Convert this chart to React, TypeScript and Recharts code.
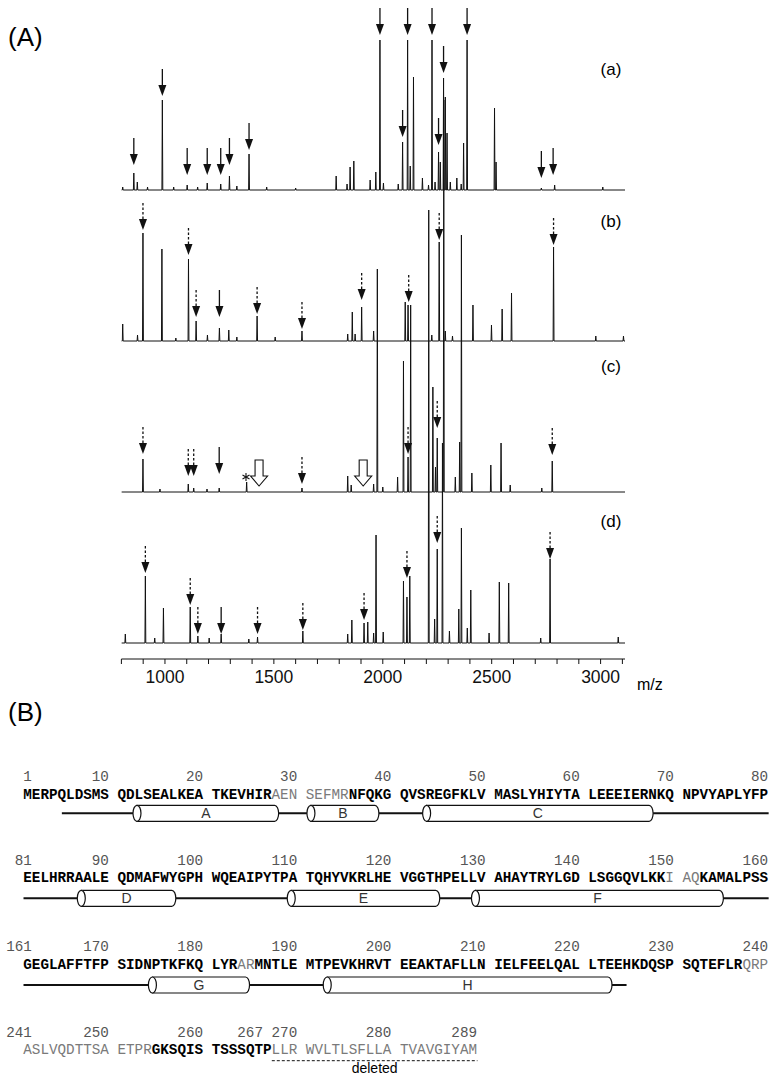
import React from 'react';
import { ComposedChart, Line, Scatter, XAxis, YAxis, ReferenceArea } from 'recharts';

// ---- panel A: MALDI spectra (m/z, peak height) ----
const mzTicks = [800, 900, 1000, 1100, 1200, 1300, 1400, 1500, 1600, 1700, 1800, 1900, 2000, 2100, 2200, 2300, 2400, 2500, 2600, 2700, 2800, 2900, 3000, 3100];

const peaksA = [[806, 3], [857, 17], [873, 8], [920, 3], [988, 90], [1040, 3], [1102, 5], [1150, 3], [1194, 7], [1256, 6], [1296, 14], [1330, 4], [1386, 36], [1467, 3], [1600, 2], [1786, 14], [1836, 6], [1850, 23], [1867, 29], [1942, 10], [1968, 18], [1987, 150], [2003, 7], [2071, 6], [2091, 48], [2114, 150], [2126, 24], [2141, 113], [2182, 12], [2210, 5], [2226, 150], [2240, 8], [2256, 38], [2264, 28], [2279, 112], [2287, 93], [2295, 57], [2310, 8], [2340, 12], [2360, 6], [2371, 47], [2387, 150], [2513, 82], [2520, 28], [2728, 2], [2789, 5], [3010, 3]];
const peaksB = [[806, 17], [874, 6], [899, 108], [986, 92], [1050, 3], [1108, 82], [1143, 20], [1195, 6], [1250, 13], [1293, 11], [1330, 4], [1423, 25], [1506, 4], [1629, 10], [1839, 7], [1860, 29], [1873, 7], [1903, 34], [1958, 10], [2103, 39], [2116, 36], [2225, 6], [2259, 99], [2287, 10], [2320, 5], [2414, 36], [2499, 16], [2548, 32], [2591, 48], [2784, 94], [2978, 5], [3105, 5]];
const peaksC = [[899, 33], [977, 3], [1107, 8], [1132, 4], [1193, 3], [1249, 4], [1375, 10], [1629, 4], [1839, 16], [1855, 7], [1958, 8], [1975, 223], [2000, 5], [2068, 15], [2095, 131], [2116, 35], [2128, 187], [2230, 105], [2242, 25], [2250, 54], [2280, 392], [2333, 15], [2353, 50], [2361, 257], [2409, 19], [2496, 27], [2543, 49], [2585, 7], [2730, 4], [2778, 31]];
const peaksD = [[818, 9], [910, 67], [953, 5], [993, 35], [1116, 36], [1151, 7], [1203, 5], [1258, 9], [1385, 4], [1425, 6], [1633, 12], [1839, 9], [1858, 23], [1914, 20], [1931, 21], [1958, 10], [1969, 108], [2002, 11], [2095, 62], [2111, 46], [2124, 67], [2211, 433], [2238, 24], [2250, 94], [2274, 200], [2306, 12], [2349, 34], [2361, 115], [2388, 15], [2404, 53], [2488, 10], [2535, 61], [2578, 60], [2725, 5], [2768, 84], [3081, 6]];

// arrows: [m/z, tip height above baseline]
const solidA = [[857, 25], [988, 94], [1102, 15], [1194, 15], [1256, 15], [1296, 25], [1386, 40], [1987, 155], [2091, 53], [2114, 155], [2226, 155], [2256, 45], [2279, 117], [2387, 155], [2728, 12], [2782, 15]];
const dashedB = [[899, 111], [1108, 86], [1143, 24], [1423, 27], [1629, 12], [1903, 41], [2119, 39], [2259, 101], [2784, 96]];
const solidB = [[1250, 24]];
const dashedC = [[899, 38], [1107, 16], [1132, 16], [1629, 8], [2116, 38], [2250, 64], [2778, 37]];
const solidC = [[1249, 18]];
const openC = [[1432, 6], [1910, 6]];
const starC = [[1372, 15]];
const dashedD = [[910, 70], [1116, 38], [1151, 9], [1425, 9], [1633, 13], [1914, 23], [2111, 65], [2250, 100], [2768, 84]];
const solidD = [[1258, 9]];

const traceNames = ['(a)', '(b)', '(c)', '(d)'];

// ---- panel B: sequence ----
const seqRows = [
  'MERPQLDSMS QDLSEALKEA TKEVHIRAEN SEFMRNFQKG QVSREGFKLV MASLYHIYTA LEEEIERNKQ NPVYAPLYFP',
  'EELHRRAALE QDMAFWYGPH WQEAIPYTPA TQHYVKRLHE VGGTHPELLV AHAYTRYLGD LSGGQVLKKI AQKAMALPSS',
  'GEGLAFFTFP SIDNPTKFKQ LYRARMNTLE MTPEVKHRVT EEAKTAFLLN IELFEELQAL LTEEHKDQSP SQTEFLRQRP',
  'ASLVQDTTSA ETPRGKSQIS TSSSQTPLLR WVLTLSFLLA TVAVGIYAM',
];
const rowNumbers = [
  [1, 10, 20, 30, 40, 50, 60, 70, 80],
  [81, 90, 100, 110, 120, 130, 140, 150, 160],
  [161, 170, 180, 190, 200, 210, 220, 230, 240],
  [241, 250, 260, 267, 270, 280, 289],
];
const lightRanges = [[28, 35], [150, 152], [184, 185], [238, 254], [268, 289]];
const helixNames = ['A', 'B', 'C', 'D', 'E', 'F', 'G', 'H'];
const helixStart = [12.8, 31.1, 43.6, 87.3, 109.8, 129.3, 174.6, 193];
const helixEnd = [28.8, 39.5, 68.5, 97.8, 125.6, 155.7, 185.4, 223.7];
const backboneStart = [5.5, 81, 161];
const backboneEnd = [81, 161, 225.4];
const deletedFrom = 268;
const deletedTo = 289;

// layout
const MZ_MIN = 800;
const MZ_MAX = 3112;
const BASES = [453, 302, 151, 0];
const LABEL_Y = [71, 223, 368, 523];
const CW = 8.569; // monospace char width
const SEQ_X = 23.3;
const NUM_Y = [777, 861, 947, 1033];
const SEQ_Y = [795, 878, 965, 1050];
const LINE_Y = [813.3, 898.3, 985, 1060.7];
const INK = '#111';
const SANS = '"Liberation Sans", Arial, sans-serif';
const MONO = '"Liberation Mono", "Courier New", monospace';

function stick(peaks: number[][], base: number) {
  const pts = [{ mz: MZ_MIN, y: base }];
  [...peaks].sort((p, q) => p[0] - q[0]).forEach(([m, h]) => {
    pts.push({ mz: m - 2, y: base }, { mz: m, y: base + h }, { mz: m + 2, y: base });
  });
  pts.push({ mz: MZ_MAX, y: base });
  return pts;
}

function marks(list: number[][], base: number, kind: string) {
  return list.map(([m, t]) => ({ mz: m, y: base + t, kind }));
}

const arrowData = [
  ...marks(solidA, BASES[0], 'solid'),
  ...marks(dashedB, BASES[1], 'dashed'), ...marks(solidB, BASES[1], 'solid'),
  ...marks(dashedC, BASES[2], 'dashed'), ...marks(solidC, BASES[2], 'solid'),
  ...marks(dashedD, BASES[3], 'dashed'), ...marks(solidD, BASES[3], 'solid'),
];
const openData = marks(openC, BASES[2], 'open');
const starData = marks(starC, BASES[2], 'star');

function ArrowMark(props: any) {
  const { cx, cy, payload } = props;
  const dashed = payload.kind === 'dashed';
  return (
    <g>
      <line x1={cx} y1={cy - 27} x2={cx} y2={cy - 10} stroke={INK} strokeWidth={1.3} strokeDasharray={dashed ? '2.5 2' : undefined} />
      <path d={`M${cx - 4},${cy - 11} L${cx + 4},${cy - 11} L${cx},${cy} Z`} fill={INK} />
    </g>
  );
}

function OpenArrow(props: any) {
  const { cx, cy } = props;
  const d = `M${cx - 4},${cy - 26} L${cx + 4},${cy - 26} L${cx + 4},${cy - 10} L${cx + 8.5},${cy - 10} L${cx},${cy} L${cx - 8.5},${cy - 10} L${cx - 4},${cy - 10} Z`;
  return <path d={d} fill="#fff" stroke={INK} strokeWidth={1.1} />;
}

function Star(props: any) {
  const { cx, cy } = props;
  return (
    <g stroke={INK} strokeWidth={1.1}>
      <line x1={cx} y1={cy - 4} x2={cx} y2={cy + 4} />
      <line x1={cx - 3.5} y1={cy - 2} x2={cx + 3.5} y2={cy + 2} />
      <line x1={cx - 3.5} y1={cy + 2} x2={cx + 3.5} y2={cy - 2} />
    </g>
  );
}

// residue position (1-based, fractional = left edge) -> column incl. block spaces
function colOf(p: number, row: number) {
  const k = p - (row * 80 + 1);
  return k + Math.floor(Math.min(k, 79.99) / 10);
}

function numberLine(nums: number[], start: number) {
  const chars: string[] = Array(92).fill(' ');
  let limit = 999;
  [...nums].reverse().forEach(n => {
    const k = n - start;
    const s = String(n);
    let end = 2 + k + Math.floor(k / 10);
    if (end > limit - 2) end = limit - 2;
    for (let i = 0; i < s.length; i++) chars[end - s.length + 1 + i] = s[i];
    limit = end - s.length + 1;
  });
  return chars.join('').replace(/\s+$/, '');
}

function isLight(res: number) {
  return lightRanges.some(([a, b]) => res >= a && res <= b);
}

function SeqRow({ text, row }: { text: string; row: number }) {
  const parts: { light: boolean; s: string }[] = [];
  let res = row * 80 + 1;
  for (const ch of text) {
    if (ch === ' ') { parts[parts.length - 1].s += ' '; continue; }
    const light = isLight(res);
    const last = parts[parts.length - 1];
    if (last && last.light === light) last.s += ch;
    else parts.push({ light, s: ch });
    res++;
  }
  return (
    <pre style={{ position: 'absolute', left: SEQ_X, top: SEQ_Y[row] - 7.7, margin: 0, fontFamily: MONO, fontSize: 14.28, lineHeight: '16px' }}>
      {parts.map((p, i) => (
        <span key={i} style={{ fontWeight: p.light ? 400 : 700, color: p.light ? '#7a7a7a' : '#000' }}>{p.s}</span>
      ))}
    </pre>
  );
}

function Helix(props: any) {
  const { x, y, width, height, name } = props;
  const rx = 4;
  const ry = height / 2;
  const cy = y + ry;
  const x0 = x + rx;
  const x1 = x + width - rx;
  return (
    <g>
      <path d={`M${x0},${y} H${x1} A${rx},${ry} 0 0 1 ${x1},${y + height} H${x0} Z`} fill="#fff" stroke={INK} strokeWidth={1.2} />
      <ellipse cx={x0} cy={cy} rx={rx} ry={ry} fill="#fff" stroke={INK} strokeWidth={1.2} />
      <text x={(x0 + x1) / 2} y={cy + 5} textAnchor="middle" fontSize={14} fontFamily={SANS} fill="#333">{name}</text>
    </g>
  );
}

const helices = helixNames.map((name, i) => {
  const row = Math.floor((helixStart[i] - 1) / 80);
  return { name, row, x1: colOf(helixStart[i], row), x2: colOf(helixEnd[i], row) };
});

// backbone segments between helices
const backbone: { row: number; a: number; b: number }[] = [];
backboneStart.forEach((s, row) => {
  let cur = colOf(s, row);
  helices.filter(h => h.row === row).sort((p, q) => p.x1 - q.x1).forEach(h => {
    backbone.push({ row, a: cur, b: h.x1 });
    cur = h.x2;
  });
  backbone.push({ row, a: cur, b: colOf(backboneEnd[row], row) });
});

const traces = [peaksA, peaksB, peaksC, peaksD];

export default function App() {
  return (
    <div style={{ position: 'absolute', left: 0, top: 0, width: 781, height: 1077, background: '#fff', fontFamily: SANS }}>
      <div style={{ position: 'absolute', left: 8, top: 22, fontSize: 26, lineHeight: '30px' }}>(A)</div>
      <div style={{ position: 'absolute', left: 0, top: 0 }}>
        <ComposedChart width={781} height={700} margin={{ top: 0, right: 156, bottom: 11, left: 121.4 }}>
          <XAxis type="number" dataKey="mz" domain={[MZ_MIN, MZ_MAX]} ticks={mzTicks} interval={0} allowDataOverflow
            tickFormatter={(v: number) => (v % 500 === 0 ? String(v) : '')} tickSize={5} tickMargin={7} height={30}
            stroke={INK} tick={{ fontSize: 17.5, fill: INK, fontFamily: SANS }} />
          <YAxis type="number" dataKey="y" domain={[-16, 643]} hide allowDataOverflow />
          {traces.map((p, i) => (
            <Line key={i} data={stick(p, BASES[i])} dataKey="y" type="linear" stroke={INK} strokeWidth={1} dot={false} isAnimationActive={false} />
          ))}
          <Scatter data={arrowData} dataKey="y" shape={(p: any) => <ArrowMark {...p} />} isAnimationActive={false} />
          <Scatter data={openData} dataKey="y" shape={(p: any) => <OpenArrow {...p} />} isAnimationActive={false} />
          <Scatter data={starData} dataKey="y" shape={(p: any) => <Star {...p} />} isAnimationActive={false} />
        </ComposedChart>
      </div>
      {traceNames.map((t, i) => (
        <div key={t} style={{ position: 'absolute', left: 591, width: 40, textAlign: 'center', top: LABEL_Y[i] - 11.5, fontSize: 17, lineHeight: '20px' }}>{t}</div>
      ))}
      <div style={{ position: 'absolute', left: 637, top: 674.5, fontSize: 16, lineHeight: '20px' }}>m/z</div>

      <div style={{ position: 'absolute', left: 8, top: 697, fontSize: 26, lineHeight: '30px' }}>(B)</div>
      {seqRows.map((_, row) => (
        <pre key={'n' + row} style={{ position: 'absolute', left: SEQ_X - 2 * CW, top: NUM_Y[row] - 7.7, margin: 0, fontFamily: MONO, fontSize: 14.28, lineHeight: '16px', color: '#555' }}>
          {numberLine(rowNumbers[row], row * 80 + 1)}
        </pre>
      ))}
      {seqRows.map((t, row) => <SeqRow key={'s' + row} text={t} row={row} />)}
      <div style={{ position: 'absolute', left: 0, top: 790 }}>
        <ComposedChart width={781} height={287} margin={{ top: 0, right: 781 - SEQ_X - 87 * CW, bottom: 0, left: SEQ_X }}>
          <XAxis type="number" dataKey="x" domain={[0, 87]} hide allowDataOverflow />
          <YAxis type="number" dataKey="y" domain={[790, 1077]} reversed hide allowDataOverflow />
          {backbone.map((s, i) => (
            <Line key={'b' + i} data={[{ x: s.a, y: LINE_Y[s.row] }, { x: s.b, y: LINE_Y[s.row] }]} dataKey="y" stroke={INK} strokeWidth={2} dot={false} isAnimationActive={false} />
          ))}
          <Line data={[{ x: colOf(deletedFrom, 3), y: LINE_Y[3] }, { x: colOf(deletedTo + 1, 3), y: LINE_Y[3] }]} dataKey="y" stroke={INK} strokeWidth={1} strokeDasharray="3 2" dot={false} isAnimationActive={false} />
          {helices.map(h => (
            <ReferenceArea key={h.name} x1={h.x1} x2={h.x2} y1={LINE_Y[h.row] - 8} y2={LINE_Y[h.row] + 8}
              shape={(p: any) => <Helix {...p} name={h.name} />} />
          ))}
        </ComposedChart>
      </div>
      <div style={{ position: 'absolute', left: SEQ_X + (colOf(deletedFrom, 3) + colOf(deletedTo + 1, 3)) / 2 * CW - 40, width: 80, textAlign: 'center', top: 1059, fontSize: 14, lineHeight: '18px' }}>deleted</div>
    </div>
  );
}
